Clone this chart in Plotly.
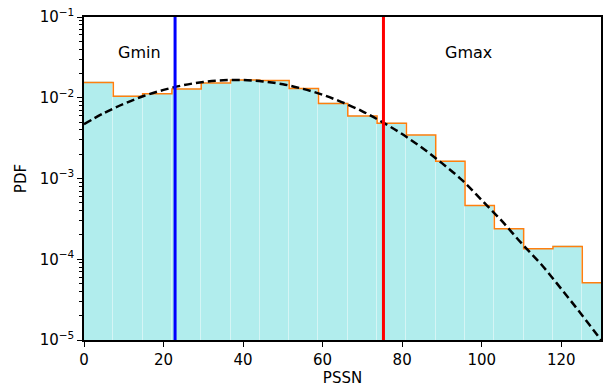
import plotly.graph_objects as go

# ---- data ----
bin_start = 0.0
bin_width = 7.37
pdf_hist = [0.0155, 0.0104, 0.0112, 0.0128, 0.0152, 0.0166, 0.0163, 0.0130,
            0.00849, 0.00593, 0.00485, 0.00345, 0.00163, 4.63e-4, 2.38e-4,
            1.35e-4, 1.44e-4, 5.1e-5]

fit_x = [0, 5, 10, 15, 20, 25, 30, 35, 40, 45, 50, 55, 60, 65, 70, 75,
         80, 85, 90, 95, 100, 105, 110, 115, 120, 125, 130]
fit_y = [4.7e-3, 6.45e-3, 8.4e-3, 1.05e-2, 1.25e-2, 1.43e-2, 1.57e-2, 1.645e-2,
         1.66e-2, 1.59e-2, 1.47e-2, 1.29e-2, 1.09e-2, 8.75e-3, 6.8e-3, 5.0e-3,
         3.55e-3, 2.4e-3, 1.55e-3, 9.6e-4, 5.4e-4, 3.0e-4, 1.58e-4, 8.6e-5,
         4.3e-5, 2.1e-5, 1.0e-5]

gmin = 22.9
gmax = 75.3

y_ticks = [1e-5, 1e-4, 1e-3, 1e-2, 1e-1]
y_ticktext = ["10<sup>\u22125</sup>", "10<sup>\u22124</sup>", "10<sup>\u22123</sup>",
              "10<sup>\u22122</sup>", "10<sup>\u22121</sup>"]
x_ticks = [0, 20, 40, 60, 80, 100, 120]

# ---- derived ----
n = len(pdf_hist)
edges = [bin_start + i * bin_width for i in range(n + 1)]
centers = [(edges[i] + edges[i + 1]) / 2 for i in range(n)]
step_x = edges
step_y = pdf_hist + [pdf_hist[-1]]

font = "DejaVu Sans"
fig = go.Figure()

fig.add_trace(go.Bar(x=centers, y=pdf_hist, width=bin_width,
                     marker=dict(color="#b1eded",
                                 line=dict(color="rgba(255,255,255,0.22)", width=1)),
                     showlegend=False))
fig.add_trace(go.Scatter(x=step_x, y=step_y, mode="lines", line_shape="hv",
                         line=dict(color="#ff7f0e", width=1.5), showlegend=False))
fig.add_trace(go.Scatter(x=fit_x, y=fit_y, mode="lines", line_shape="spline",
                         line=dict(color="black", width=2.5, dash="8px,4px"),
                         showlegend=False))
fig.add_trace(go.Scatter(x=[gmin, gmin], y=[1e-5, 1e-1], mode="lines",
                         line=dict(color="#0000ff", width=3), showlegend=False))
fig.add_trace(go.Scatter(x=[gmax, gmax], y=[1e-5, 1e-1], mode="lines",
                         line=dict(color="#ff0000", width=3), showlegend=False))

fig.add_annotation(x=13.9, y=-1.442, xref="x", yref="y", text="Gmin",
                   showarrow=False, font=dict(family=font, size=16, color="black"))
fig.add_annotation(x=96.8, y=-1.442, xref="x", yref="y", text="Gmax",
                   showarrow=False, font=dict(family=font, size=16, color="black"))

minor_vals = [m * 10 ** e for e in range(-5, -1) for m in range(2, 10)]

fig.update_layout(
    width=604, height=387,
    margin=dict(l=84, r=1, t=17, b=47),
    paper_bgcolor="white", plot_bgcolor="white",
    bargap=0,
    font=dict(family=font, size=15, color="black"),
    xaxis=dict(range=[0, 130], tickvals=x_ticks, ticks="outside", ticklen=5,
               tickwidth=1, tickcolor="black", showline=True, linecolor="black",
               linewidth=1.5, mirror=True, showgrid=False, zeroline=False,
               title=dict(text="PSSN", standoff=2, font=dict(size=15)),
               tickfont=dict(size=15)),
    yaxis=dict(type="log", range=[-5, -1], tickvals=y_ticks, ticktext=y_ticktext,
               ticks="outside", ticklen=5, tickwidth=1, tickcolor="black",
               showline=True, linecolor="black", linewidth=1.5, mirror=True,
               showgrid=False, zeroline=False,
               minor=dict(tickvals=minor_vals, ticks="outside", ticklen=3,
                          tickcolor="black", tickwidth=0.8, showgrid=False),
               title=dict(text="PDF", standoff=9, font=dict(size=15)),
               tickfont=dict(size=15)),
)

fig.write_html("out.html",
               config={"displayModeBar": False},
               post_script="document.body.style.margin='0';document.body.style.overflow='hidden';")
